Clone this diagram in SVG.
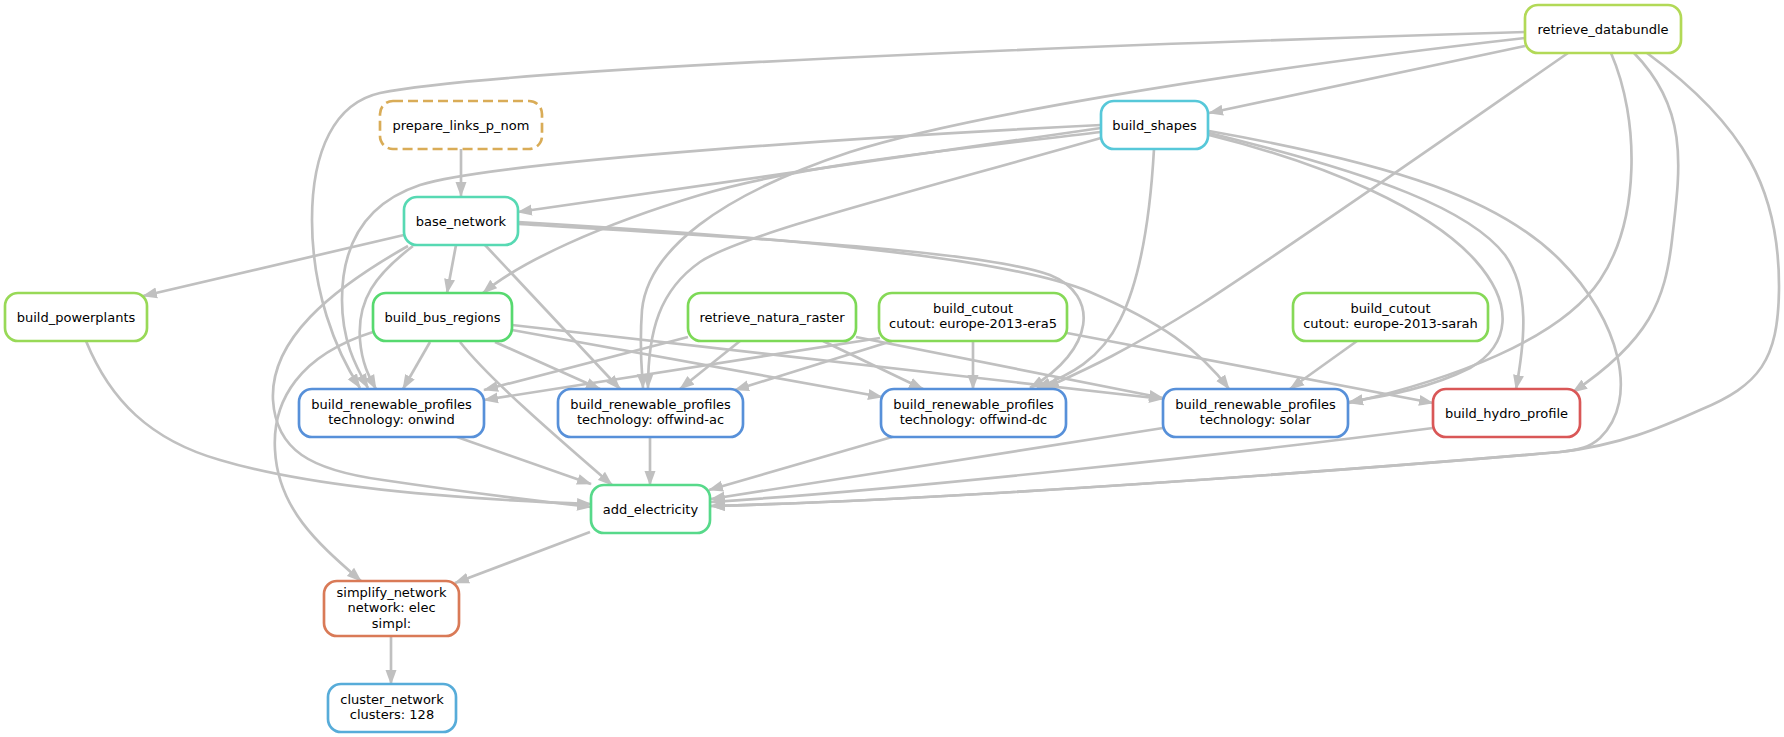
<svg xmlns="http://www.w3.org/2000/svg" width="1784" height="737" viewBox="0 0 1784 737">
<style>
.e path{fill:none;stroke:#c0c0c0;stroke-width:2.67;marker-end:url(#a)}
.n rect{fill:#fff;stroke-width:2.67}
text{font-family:"DejaVu Sans","Liberation Sans",sans-serif;font-size:13px;text-anchor:middle;fill:#000}
</style>
<defs>
<marker id="a" markerUnits="userSpaceOnUse" viewBox="0 -6 15 12" markerWidth="15" markerHeight="12" refX="14" refY="0" orient="auto">
<path d="M0,-5.5 L15,0 L0,5.5 z" fill="#c0c0c0"/>
</marker>
</defs>
<rect width="1784" height="737" fill="#fff"/>
<g id="connectors" class="e">
<path d="M461,149 L461,196"/>
<path d="M1525,46 L1209,113"/>
<path d="M1525,32 C1100,45 500,68 380,93 C335,103 312,150 312,220 C312,290 335,350 360,388"/>
<path d="M1525,38 C1200,75 950,120 850,152 C720,195 648,250 642,310 C639,350 642,370 643,388"/>
<path d="M1568,53 C1450,135 1300,240 1200,305 C1120,355 1080,372 1045,388"/>
<path d="M1611,53 C1640,120 1640,220 1600,280 C1560,340 1450,380 1349,403"/>
<path d="M1634,53 C1690,110 1680,170 1672,240 C1665,300 1650,340 1573,392"/>
<path d="M1647,53 C1745,125 1780,190 1779,290 C1778,360 1760,385 1700,410 C1660,428 1620,445 1560,452 C1350,470 950,500 711,506"/>
<path d="M1101,128 L518,212"/>
<path d="M1101,132 C950,150 800,165 700,195 C600,225 520,262 483,293"/>
<path d="M1101,125 C900,135 500,160 420,185 C360,205 342,250 342,300 C342,340 355,365 368,388"/>
<path d="M1101,138 C900,195 740,235 700,262 C660,290 648,330 648,388"/>
<path d="M1154,149 C1150,220 1140,280 1120,320 C1100,360 1070,375 1037,388"/>
<path d="M1209,135 C1330,165 1430,210 1475,260 C1515,305 1510,345 1470,368 C1430,388 1390,395 1349,402"/>
<path d="M1209,133 C1380,175 1470,210 1505,255 C1530,290 1525,340 1516,389"/>
<path d="M1209,131 C1400,165 1500,200 1560,260 C1620,320 1640,400 1600,438 C1590,447 1580,450 1560,452 C1350,470 950,500 711,506"/>
<path d="M404,235 L143,296"/>
<path d="M456,245 L447,293"/>
<path d="M413,246 C375,275 357,300 360,340 C362,365 370,378 376,389"/>
<path d="M485,245 L620,389"/>
<path d="M518,224 C750,238 980,250 1050,275 C1100,295 1095,350 1030,388"/>
<path d="M518,222 C760,236 1000,255 1090,292 C1160,322 1200,350 1229,389"/>
<path d="M408,246 C330,290 270,340 273,400 C276,450 310,470 383,480 C450,490 530,500 591,507"/>
<path d="M430,342 L403,389"/>
<path d="M495,342 L600,389"/>
<path d="M512,330 L882,397"/>
<path d="M512,325 L1163,399"/>
<path d="M460,342 C490,380 560,440 612,485"/>
<path d="M373,332 C300,355 272,400 275,450 C278,510 320,545 361,581"/>
<path d="M688,337 L484,390"/>
<path d="M740,341 L680,389"/>
<path d="M823,341 L923,389"/>
<path d="M856,337 L1163,398"/>
<path d="M880,338 L484,400"/>
<path d="M892,341 L735,390"/>
<path d="M973,341 L973,389"/>
<path d="M1067,333 L1433,403"/>
<path d="M1357,341 L1290,389"/>
<path d="M457,437 L591,484"/>
<path d="M650,437 L650,485"/>
<path d="M892,437 L709,490"/>
<path d="M1163,428 L711,499"/>
<path d="M1433,428 C1250,452 900,490 711,502"/>
<path d="M86,341 C110,400 150,440 220,460 C320,490 480,500 591,504"/>
<path d="M590,532 L455,583"/>
<path d="M391,636 L391,684"/>
</g>
<g id="retrieve_databundle" class="n"><rect x="1525" y="5" width="156" height="48" rx="13" stroke="#b2d957"/><text x="1603" y="33.5">retrieve_databundle</text></g>
<g id="prepare_links_p_nom" class="n"><rect x="380" y="101" width="162" height="48" rx="13" stroke="#d9ac57" stroke-dasharray="10,5"/><text x="461" y="129.5">prepare_links_p_nom</text></g>
<g id="build_shapes" class="n"><rect x="1101" y="101" width="107" height="48" rx="13" stroke="#57c8d9"/><text x="1154.5" y="129.5">build_shapes</text></g>
<g id="base_network" class="n"><rect x="404" y="197" width="114" height="48" rx="13" stroke="#57d9b3"/><text x="461" y="225.5">base_network</text></g>
<g id="build_powerplants" class="n"><rect x="5" y="293" width="142" height="48" rx="13" stroke="#98d957"/><text x="76" y="321.5">build_powerplants</text></g>
<g id="build_bus_regions" class="n"><rect x="373" y="293" width="139" height="48" rx="13" stroke="#57d96f"/><text x="442.5" y="321.5">build_bus_regions</text></g>
<g id="retrieve_natura_raster" class="n"><rect x="688" y="293" width="168" height="48" rx="13" stroke="#7dd957"/><text x="772" y="321.5">retrieve_natura_raster</text></g>
<g id="build_cutout_era5" class="n"><rect x="879" y="293" width="188" height="48" rx="13" stroke="#86d957"/><text x="973" y="313">build_cutout</text><text x="973" y="328">cutout: europe-2013-era5</text></g>
<g id="build_cutout_sarah" class="n"><rect x="1293" y="293" width="195" height="48" rx="13" stroke="#86d957"/><text x="1390.5" y="313">build_cutout</text><text x="1390.5" y="328">cutout: europe-2013-sarah</text></g>
<g id="build_renewable_profiles_onwind" class="n"><rect x="299" y="389" width="185" height="48" rx="13" stroke="#5790d9"/><text x="391.5" y="409">build_renewable_profiles</text><text x="391.5" y="424">technology: onwind</text></g>
<g id="build_renewable_profiles_offwind_ac" class="n"><rect x="558" y="389" width="185" height="48" rx="13" stroke="#5790d9"/><text x="650.5" y="409">build_renewable_profiles</text><text x="650.5" y="424">technology: offwind-ac</text></g>
<g id="build_renewable_profiles_offwind_dc" class="n"><rect x="881" y="389" width="185" height="48" rx="13" stroke="#5790d9"/><text x="973.5" y="409">build_renewable_profiles</text><text x="973.5" y="424">technology: offwind-dc</text></g>
<g id="build_renewable_profiles_solar" class="n"><rect x="1163" y="389" width="185" height="48" rx="13" stroke="#5790d9"/><text x="1255.5" y="409">build_renewable_profiles</text><text x="1255.5" y="424">technology: solar</text></g>
<g id="build_hydro_profile" class="n"><rect x="1433" y="389" width="147" height="48" rx="13" stroke="#d95757"/><text x="1506.5" y="417.5">build_hydro_profile</text></g>
<g id="add_electricity" class="n"><rect x="591" y="485" width="119" height="48" rx="13" stroke="#57d98a"/><text x="650.5" y="513.5">add_electricity</text></g>
<g id="simplify_network" class="n"><rect x="324" y="581" width="135" height="55" rx="13" stroke="#d97a57"/><text x="391.5" y="596.5">simplify_network</text><text x="391.5" y="612">network: elec</text><text x="391.5" y="627.5">simpl:</text></g>
<g id="cluster_network" class="n"><rect x="328" y="684" width="128" height="48" rx="13" stroke="#57acd9"/><text x="392" y="704">cluster_network</text><text x="392" y="719">clusters: 128</text></g>
</svg>
